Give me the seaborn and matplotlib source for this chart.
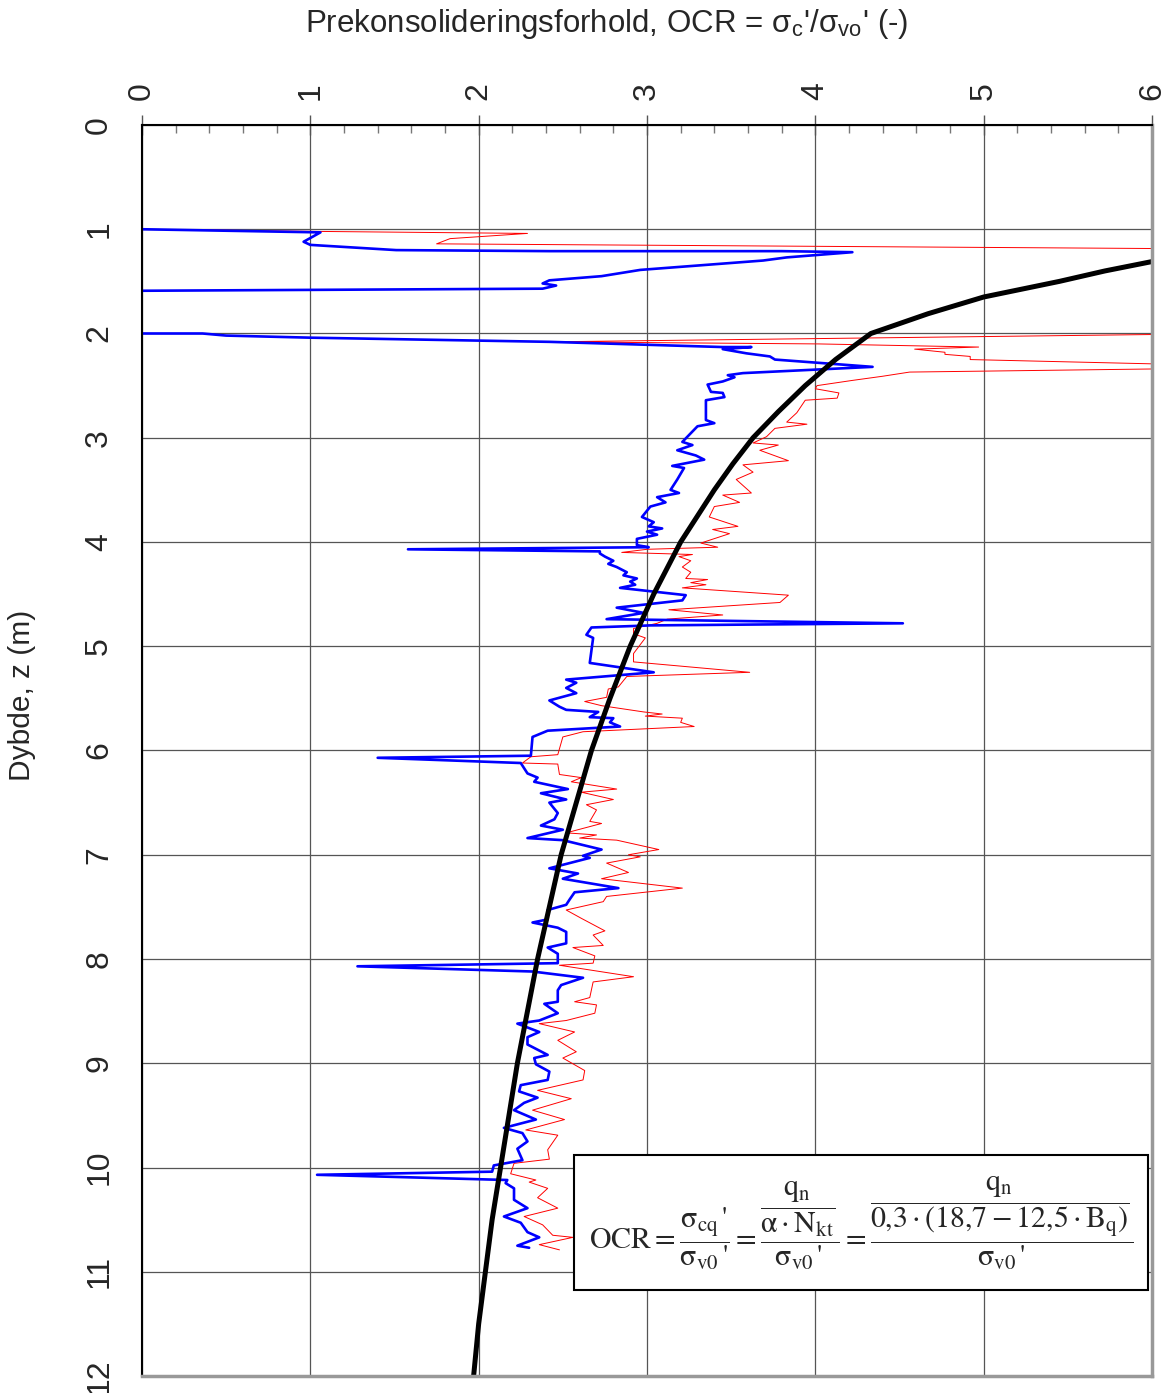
import numpy as np
import pandas as pd
import matplotlib
matplotlib.use("Agg")
import matplotlib.pyplot as plt
import seaborn as sns
from matplotlib.patches import Rectangle
from matplotlib.ticker import MultipleLocator

# --- data ---
blue_depth = [1.00, 1.03, 1.12, 1.15, 1.20, 1.21, 1.21, 1.22, 1.27, 1.30, 1.39, 1.45, 1.49, 1.52, 1.54, 1.57,
              1.59, 1.60, 1.99, 2.00, 2.00, 2.02, 2.04, 2.08, 2.13, 2.13, 2.15, 2.19, 2.22, 2.25, 2.32, 2.38,
              2.40, 2.42, 2.46, 2.49, 2.56, 2.57, 2.61, 2.64, 2.83, 2.86, 2.89, 3.04, 3.07, 3.12, 3.17, 3.21,
              3.27, 3.29, 3.40, 3.50, 3.53, 3.57, 3.62, 3.66, 3.76, 3.81, 3.85, 3.87, 3.90, 3.93, 3.97, 4.03,
              4.05, 4.07, 4.09, 4.11, 4.14, 4.18, 4.21, 4.24, 4.29, 4.32, 4.35, 4.38, 4.41, 4.44, 4.51, 4.56,
              4.63, 4.68, 4.74, 4.78, 4.80, 4.82, 4.89, 4.92, 5.16, 5.25, 5.32, 5.35, 5.40, 5.45, 5.52, 5.58,
              5.61, 5.63, 5.68, 5.69, 5.73, 5.77, 5.81, 5.87, 6.05, 6.07, 6.12, 6.22, 6.26, 6.30, 6.37, 6.41,
              6.47, 6.50, 6.60, 6.66, 6.72, 6.76, 6.84, 6.86, 6.95, 7.01, 7.03, 7.13, 7.18, 7.23, 7.32, 7.36,
              7.43, 7.48, 7.53, 7.62, 7.65, 7.70, 7.74, 7.85, 7.89, 7.95, 8.04, 8.07, 8.12, 8.18, 8.25, 8.30,
              8.41, 8.43, 8.52, 8.59, 8.62, 8.70, 8.75, 8.82, 8.92, 8.95, 9.01, 9.08, 9.16, 9.21, 9.27, 9.33,
              9.38, 9.45, 9.54, 9.62, 9.67, 9.75, 9.82, 9.93, 9.98, 10.04, 10.07, 10.12, 10.15, 10.20, 10.31,
              10.39, 10.47, 10.53, 10.62, 10.67, 10.75, 10.77]
blue_ocr = [0.00, 1.06, 0.96, 1.00, 1.51, 2.42, 3.80, 4.22, 3.83, 3.69, 2.96, 2.73, 2.42, 2.38, 2.46, 2.38,
            0.00, -0.10, -0.10, 0.00, 0.36, 0.50, 1.00, 2.42, 3.45, 3.62, 3.45, 3.59, 3.73, 3.76, 4.34, 3.57,
            3.48, 3.52, 3.45, 3.36, 3.38, 3.45, 3.46, 3.35, 3.35, 3.40, 3.30, 3.21, 3.27, 3.18, 3.29, 3.34,
            3.15, 3.22, 3.18, 3.14, 3.19, 3.06, 3.11, 3.02, 2.97, 3.04, 3.01, 3.09, 3.00, 3.06, 2.94, 2.94,
            3.01, 1.58, 2.72, 2.72, 2.75, 2.80, 2.77, 2.82, 2.88, 2.86, 2.94, 2.90, 2.93, 2.84, 3.23, 3.21,
            2.82, 2.98, 2.76, 4.52, 3.02, 2.67, 2.64, 2.68, 2.66, 3.04, 2.52, 2.58, 2.52, 2.58, 2.42, 2.48,
            2.52, 2.71, 2.66, 2.80, 2.78, 2.84, 2.41, 2.32, 2.31, 1.40, 2.25, 2.29, 2.35, 2.33, 2.53, 2.37,
            2.52, 2.42, 2.47, 2.45, 2.37, 2.50, 2.29, 2.50, 2.73, 2.62, 2.66, 2.42, 2.59, 2.50, 2.83, 2.57,
            2.54, 2.52, 2.41, 2.41, 2.32, 2.47, 2.52, 2.52, 2.41, 2.47, 2.47, 1.28, 2.32, 2.62, 2.49, 2.47,
            2.47, 2.39, 2.47, 2.36, 2.23, 2.36, 2.29, 2.29, 2.41, 2.33, 2.34, 2.42, 2.41, 2.25, 2.24, 2.35,
            2.27, 2.21, 2.34, 2.15, 2.26, 2.29, 2.23, 2.26, 2.09, 2.08, 1.04, 2.17, 2.16, 2.21, 2.21,
            2.29, 2.15, 2.25, 2.29, 2.36, 2.23, 2.30]

red_depth = [1.00, 1.02, 1.04, 1.09, 1.14, 1.19, 2.00, 2.08, 2.10, 2.13, 2.15, 2.18, 2.20, 2.22, 2.25, 2.31,
             2.33, 2.37, 2.41, 2.45, 2.50, 2.53, 2.57, 2.62, 2.64, 2.76, 2.85, 2.87, 2.91, 2.99, 3.05, 3.07,
             3.12, 3.22, 3.26, 3.33, 3.40, 3.53, 3.55, 3.62, 3.66, 3.76, 3.85, 3.88, 3.92, 4.01, 4.05, 4.07,
             4.10, 4.12, 4.14, 4.18, 4.24, 4.29, 4.35, 4.36, 4.39, 4.41, 4.44, 4.51, 4.58, 4.65, 4.70, 4.74,
             4.78, 4.83, 4.88, 4.92, 5.07, 5.15, 5.25, 5.29, 5.39, 5.41, 5.49, 5.53, 5.57, 5.63, 5.65, 5.67,
             5.69, 5.73, 5.77, 5.82, 5.87, 6.04, 6.06, 6.12, 6.13, 6.23, 6.26, 6.30, 6.37, 6.40, 6.47, 6.52,
             6.57, 6.68, 6.70, 6.79, 6.81, 6.84, 6.86, 6.95, 7.00, 7.02, 7.08, 7.17, 7.23, 7.32, 7.40, 7.45,
             7.53, 7.61, 7.73, 7.77, 7.87, 7.89, 7.97, 8.04, 8.06, 8.17, 8.22, 8.37, 8.41, 8.44, 8.52, 8.59,
             8.62, 8.70, 8.78, 8.89, 8.95, 9.07, 9.16, 9.26, 9.34, 9.45, 9.54, 9.64, 9.69, 9.83, 9.92, 9.96,
             10.06, 10.12, 10.14, 10.20, 10.29, 10.39, 10.47, 10.55, 10.65, 10.67, 10.74, 10.79]
red_ocr = [0.00, 1.00, 2.29, 1.83, 1.75, 6.50, 6.50, 2.42, 4.02, 4.97, 4.59, 4.77, 4.77, 4.92, 4.92, 6.50,
           6.50, 4.56, 4.40, 4.22, 4.01, 4.00, 4.14, 4.13, 3.94, 3.89, 3.83, 3.95, 3.76, 3.71, 3.63, 3.78,
           3.67, 3.84, 3.57, 3.63, 3.53, 3.62, 3.45, 3.55, 3.40, 3.37, 3.54, 3.39, 3.49, 3.32, 3.42, 3.00,
           2.85, 3.27, 3.19, 3.26, 3.21, 3.26, 3.23, 3.36, 3.26, 3.35, 3.21, 3.84, 3.79, 3.13, 3.45, 3.12,
           3.06, 2.92, 2.92, 2.99, 2.92, 2.92, 3.61, 2.88, 2.83, 2.77, 2.76, 2.63, 2.73, 2.98, 3.09, 2.99,
           3.21, 3.20, 3.28, 2.62, 2.50, 2.47, 2.31, 2.26, 2.47, 2.48, 2.61, 2.55, 2.82, 2.61, 2.80, 2.64,
           2.70, 2.66, 2.73, 2.52, 2.70, 2.60, 2.82, 3.07, 2.89, 2.96, 2.76, 2.89, 2.73, 3.21, 2.76, 2.74,
           2.52, 2.61, 2.75, 2.68, 2.74, 2.56, 2.69, 2.68, 2.48, 2.92, 2.68, 2.66, 2.57, 2.70, 2.69, 2.52,
           2.36, 2.57, 2.47, 2.58, 2.50, 2.63, 2.62, 2.35, 2.55, 2.32, 2.51, 2.28, 2.47, 2.41, 2.42, 2.21,
           2.19, 2.34, 2.30, 2.41, 2.35, 2.47, 2.27, 2.38, 2.44, 2.56, 2.36, 2.48]

trend_depth = [1.31, 1.40, 1.50, 1.65, 1.81, 2.0, 2.25, 2.5, 2.75, 3.0, 3.25, 3.5, 3.75, 4.0, 4.25, 4.5,
               4.75, 5.0, 5.5, 6.0, 6.5, 7.0, 7.5, 8.0, 8.5, 9.0, 9.5, 10.0, 10.5, 11.0, 11.5, 12.0]
trend_ocr = [6.0, 5.72, 5.45, 5.0, 4.67, 4.33, 4.12, 3.94, 3.78, 3.63, 3.51, 3.40, 3.30, 3.20, 3.12, 3.04,
             2.97, 2.90, 2.78, 2.67, 2.58, 2.49, 2.42, 2.35, 2.29, 2.23, 2.18, 2.13, 2.08, 2.04, 2.00, 1.97]

sns.set_style("white")
plt.rcParams["font.family"] = ["Liberation Sans", "DejaVu Sans"]
plt.rcParams["mathtext.fontset"] = "stix"

fig = plt.figure(figsize=(11.68, 13.93), dpi=100)
ax = fig.add_axes([142 / 1168, 1 - 1376 / 1393, 1010 / 1168, 1251 / 1393])

sns.lineplot(x=red_ocr, y=red_depth, sort=False, estimator=None, color="#ff0000", lw=0.7, ax=ax)
sns.lineplot(x=blue_ocr, y=blue_depth, sort=False, estimator=None, color="#0000ff", lw=1.9, ax=ax)
sns.lineplot(x=trend_ocr, y=trend_depth, sort=False, estimator=None, color="black", lw=3.6, ax=ax)

ax.set_xlim(0, 6)
ax.set_ylim(12, 0)
ax.xaxis.tick_top()
ax.xaxis.set_major_locator(MultipleLocator(1))
ax.xaxis.set_minor_locator(MultipleLocator(0.2))
ax.yaxis.set_major_locator(MultipleLocator(1))
ax.yaxis.set_minor_locator(MultipleLocator(0.2))
ax.grid(True, which="major", color="#555555", lw=0.9)
ax.set_axisbelow(True)

ax.tick_params(axis="x", which="major", direction="inout", length=14, width=1, color="#555555",
               labelsize=23, labelrotation=90, pad=11, top=True, bottom=False)
ax.tick_params(axis="x", which="minor", direction="in", length=6, width=1, color="#777777",
               top=True, bottom=False)
ax.tick_params(axis="y", which="major", direction="out", length=8, width=1, color="#333333",
               labelsize=23, labelrotation=90, pad=12)
ax.tick_params(axis="y", which="minor", direction="out", length=5, width=1, color="#777777")
for lbl in ax.get_yticklabels():
    lbl.set_va("center")

for side in ["top", "left"]:
    ax.spines[side].set_color("black")
    ax.spines[side].set_linewidth(1.5)
for side in ["right", "bottom"]:
    ax.spines[side].set_color("#999999")
    ax.spines[side].set_linewidth(2.5)

fig.text(0.519, 0.983, "Prekonsolideringsforhold, OCR = σ$_\\mathregular{c}$'/σ$_\\mathregular{vo}$' (-)",
         ha="center", va="center", fontsize=22.5)
fig.text(0.019, 0.501, "Dybde, z (m)", rotation=90, ha="center", va="center", fontsize=21.5)

# formula box
ax.add_patch(Rectangle((0.428, 0.0687), 0.568, 0.108, transform=ax.transAxes,
                       facecolor="white", edgecolor="black", lw=1.5, zorder=5))
formula = (r"$\mathrm{OCR}=\dfrac{\mathrm{σ}_{\mathrm{cq}}\,\text{'}}{\mathrm{σ}_{\mathrm{v0}}\,\text{'}}"
           r"=\dfrac{\dfrac{\mathrm{q_n}}{\mathrm{α}\cdot\mathrm{N_{kt}}}}{\mathrm{σ}_{\mathrm{v0}}\,\text{'}}"
           r"=\dfrac{\dfrac{\mathrm{q_n}}{0{,}3\cdot(18{,}7-12{,}5\cdot\mathrm{B_q})}}"
           r"{\mathrm{σ}_{\mathrm{v0}}\,\text{'}}$")
ax.text(0.712, 0.1225, formula, transform=ax.transAxes, ha="center", va="center",
        fontsize=21.5, zorder=6)

fig.savefig("out.png", dpi=100)
